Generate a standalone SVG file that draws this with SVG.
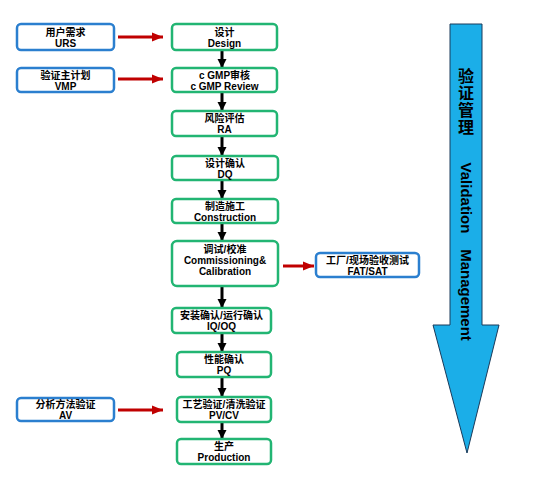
<svg xmlns="http://www.w3.org/2000/svg" width="534" height="492" viewBox="0 0 534 492">
<style>
.g{fill:#fff;stroke:#22B573;stroke-width:2.5}
.b{fill:#fff;stroke:#2B7FCF;stroke-width:2.5}
text{font-family:"Liberation Sans","Noto Sans CJK SC",Arial,sans-serif;font-size:10px;font-weight:bold;fill:#000;text-anchor:middle}
.blk{stroke:#000;stroke-width:3;fill:none}
.red{stroke:#C00000;stroke-width:3;fill:none}
</style>
<defs>
<marker id="ab" markerUnits="userSpaceOnUse" markerWidth="10" markerHeight="10" refX="9" refY="5" orient="auto"><path d="M0,0.5 L9,5 L0,9.5 Z" fill="#000"/></marker>
<marker id="ar" markerUnits="userSpaceOnUse" markerWidth="12" markerHeight="12" refX="11" refY="6" orient="auto"><path d="M0,1.5 L11,6 L0,10.5 Z" fill="#C00000"/></marker>
</defs>
<g id="bigarrow">
<path d="M450,24 L482,24 L482,325 L499,325 L467,453 L433,325 L450,325 Z" fill="#1BAEE8" stroke="#1a3a5a" stroke-width="1"/>
<text x="466" y="82" style="font-size:16px">验</text>
<text x="466" y="99" style="font-size:16px">证</text>
<text x="466" y="116" style="font-size:16px">管</text>
<text x="466" y="133" style="font-size:16px">理</text>
<text transform="translate(461,198) rotate(90)" style="font-size:15px">Validation</text>
<text transform="translate(461,295) rotate(90)" style="font-size:15px">Management</text>
</g>
<g id="connectors">
<line class="blk" x1="222" y1="51" x2="222" y2="68" marker-end="url(#ab)"/>
<line class="blk" x1="222" y1="93" x2="222" y2="111" marker-end="url(#ab)"/>
<line class="blk" x1="222" y1="137" x2="222" y2="156" marker-end="url(#ab)"/>
<line class="blk" x1="222" y1="181" x2="222" y2="199" marker-end="url(#ab)"/>
<line class="blk" x1="222" y1="224" x2="222" y2="241" marker-end="url(#ab)"/>
<line class="blk" x1="222" y1="287" x2="222" y2="308" marker-end="url(#ab)"/>
<line class="blk" x1="222" y1="334" x2="222" y2="352" marker-end="url(#ab)"/>
<line class="blk" x1="222" y1="378" x2="222" y2="397" marker-end="url(#ab)"/>
<line class="blk" x1="222" y1="423" x2="222" y2="439" marker-end="url(#ab)"/>
<line class="red" x1="118" y1="37" x2="163" y2="37" marker-end="url(#ar)"/>
<line class="red" x1="118" y1="79" x2="163" y2="79" marker-end="url(#ar)"/>
<line class="red" x1="283" y1="266" x2="314" y2="266" marker-end="url(#ar)"/>
<line class="red" x1="118" y1="410" x2="163" y2="410" marker-end="url(#ar)"/>
</g>
<g id="urs"><rect class="b" x="17" y="24" width="97" height="26" rx="4"/><text x="65.5" y="36">用户需求</text><text x="65.5" y="47">URS</text></g>
<g id="vmp"><rect class="b" x="17" y="68" width="97" height="24" rx="4"/><text x="65.5" y="79">验证主计划</text><text x="65.5" y="90">VMP</text></g>
<g id="av"><rect class="b" x="17" y="398" width="97" height="23" rx="4"/><text x="65.5" y="408">分析方法验证</text><text x="65.5" y="419">AV</text></g>
<g id="fat"><rect class="b" x="316" y="253" width="103" height="24" rx="4"/><text x="367.5" y="264">工厂/现场验收测试</text><text x="367.5" y="275">FAT/SAT</text></g>
<g id="design"><rect class="g" x="172" y="24" width="105" height="26" rx="4"/><text x="224.5" y="36">设计</text><text x="224.5" y="47">Design</text></g>
<g id="cgmp"><rect class="g" x="172" y="68" width="105" height="24" rx="4"/><text x="224.5" y="79">c GMP审核</text><text x="224.5" y="90">c GMP Review</text></g>
<g id="ra"><rect class="g" x="172" y="111" width="105" height="25" rx="4"/><text x="224.5" y="122">风险评估</text><text x="224.5" y="133">RA</text></g>
<g id="dq"><rect class="g" x="172" y="156" width="106" height="24" rx="4"/><text x="225" y="167">设计确认</text><text x="225" y="178">DQ</text></g>
<g id="construction"><rect class="g" x="172" y="199" width="106" height="24" rx="4"/><text x="225" y="210">制造施工</text><text x="225" y="221">Construction</text></g>
<g id="commissioning"><rect class="g" x="172" y="241" width="106" height="45" rx="5"/><text x="225" y="253">调试/校准</text><text x="225" y="264">Commissioning&amp;</text><text x="225" y="275">Calibration</text></g>
<g id="iqoq"><rect class="g" x="172" y="308" width="99" height="25" rx="4"/><text x="221.5" y="319">安装确认/运行确认</text><text x="221.5" y="330">IQ/OQ</text></g>
<g id="pq"><rect class="g" x="177" y="352" width="94" height="25" rx="4"/><text x="224" y="363">性能确认</text><text x="224" y="374">PQ</text></g>
<g id="pvcv"><rect class="g" x="177" y="397" width="94" height="25" rx="4"/><text x="224" y="408">工艺验证/清洗验证</text><text x="224" y="419">PV/CV</text></g>
<g id="production"><rect class="g" x="177" y="439" width="94" height="25" rx="4"/><text x="224" y="450">生产</text><text x="224" y="461">Production</text></g>
</svg>
